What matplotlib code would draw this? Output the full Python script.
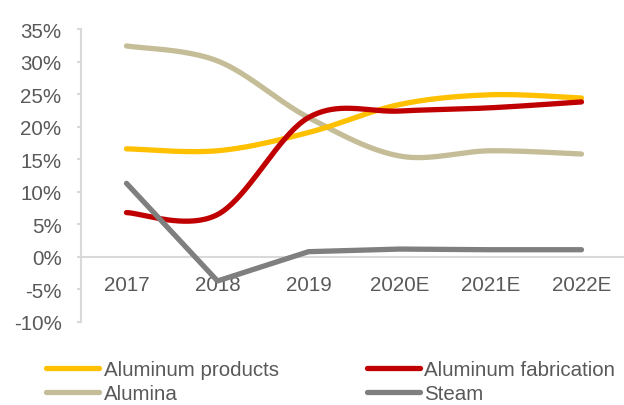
import numpy as np
import matplotlib
matplotlib.use("Agg")
import matplotlib.pyplot as plt
from matplotlib.lines import Line2D

# Segment margins by year (%)
years = ["2017", "2018", "2019", "2020E", "2021E", "2022E"]
aluminum_products = [16.6, 16.3, 19.1, 23.4, 24.9, 24.4]
aluminum_fabrication = [6.8, 6.5, 21.4, 22.4, 22.9, 23.8]
alumina = [32.4, 30.1, 21.4, 15.5, 16.3, 15.8]
steam = [11.3, -3.7, 0.8, 1.2, 1.1, 1.1]

y_ticks = [-10, -5, 0, 5, 10, 15, 20, 25, 30, 35]

C_PRODUCTS = "#FFC000"
C_FABRICATION = "#C00000"
C_ALUMINA = "#C4BD97"
C_STEAM = "#7F7F7F"
C_TEXT = "#595959"
C_AXIS = "#D9D9D9"

plt.rcParams["font.family"] = ["Liberation Sans", "DejaVu Sans"]
FS = 14.8


def smooth(xs, ys, n=40):
    """Spreadsheet-style smoothed line: cubic Bezier segments with
    Catmull-Rom control points passing through every data point."""
    xs = np.asarray(xs, float)
    ys = np.asarray(ys, float)
    px = np.concatenate([[xs[0]], xs, [xs[-1]]])
    py = np.concatenate([[ys[0]], ys, [ys[-1]]])
    t = np.linspace(0, 1, n)
    out_x, out_y = [], []
    for i in range(1, len(xs)):
        p0x, p0y = px[i], py[i]
        p1x, p1y = px[i + 1], py[i + 1]
        c1x = p0x + (px[i + 1] - px[i - 1]) / 6
        c1y = p0y + (py[i + 1] - py[i - 1]) / 6
        c2x = p1x - (px[i + 2] - px[i]) / 6
        c2y = p1y - (py[i + 2] - py[i]) / 6
        b0 = (1 - t) ** 3
        b1 = 3 * (1 - t) ** 2 * t
        b2 = 3 * (1 - t) * t ** 2
        b3 = t ** 3
        out_x.append(b0 * p0x + b1 * c1x + b2 * c2x + b3 * p1x)
        out_y.append(b0 * p0y + b1 * c1y + b2 * c2y + b3 * p1y)
    return np.concatenate(out_x), np.concatenate(out_y)


fig = plt.figure(figsize=(6.24, 4.06), dpi=100)
ax = fig.add_axes([81 / 624, 1 - 323 / 406, 543 / 624, 293 / 406])

x = np.arange(len(years))
lw = 3.8
kw = dict(lw=lw, solid_capstyle="round", solid_joinstyle="round")

sx, sy = smooth(x, alumina)
ax.plot(sx, sy, color=C_ALUMINA, **kw)
sx, sy = smooth(x, aluminum_products)
ax.plot(sx, sy, color=C_PRODUCTS, **kw)
sx, sy = smooth(x, aluminum_fabrication)
ax.plot(sx, sy, color=C_FABRICATION, **kw)
ax.plot(x, steam, color=C_STEAM, **kw)

ax.set_xlim(-0.5, 5.467)
ax.set_ylim(-10, 35)
ax.set_yticks(y_ticks)
ax.set_yticklabels([f"{v}%" for v in y_ticks])
ax.set_xticks(x)
ax.set_xticklabels(years)

for s in ["top", "right"]:
    ax.spines[s].set_visible(False)
ax.spines["left"].set_color(C_AXIS)
ax.spines["left"].set_linewidth(1.5)
ax.spines["bottom"].set_position(("data", 0))
ax.spines["bottom"].set_color(C_AXIS)
ax.spines["bottom"].set_linewidth(1.5)
ax.spines["bottom"].set_zorder(0)

ax.tick_params(axis="y", colors=C_AXIS, labelcolor=C_TEXT, labelsize=FS,
               length=3, width=1.5, pad=11)
ax.tick_params(axis="x", labelcolor=C_TEXT, labelsize=FS, length=0, pad=13)

handles = [
    Line2D([], [], color=C_PRODUCTS, lw=lw, solid_capstyle="round"),
    Line2D([], [], color=C_ALUMINA, lw=lw, solid_capstyle="round"),
    Line2D([], [], color=C_FABRICATION, lw=lw, solid_capstyle="round"),
    Line2D([], [], color=C_STEAM, lw=lw, solid_capstyle="round"),
]
labels = ["Aluminum products", "Alumina", "Aluminum fabrication", "Steam"]
leg = fig.legend(handles, labels, ncol=2, loc="lower left",
                 bbox_to_anchor=(46 / 624, 1.5 / 406), frameon=False,
                 fontsize=FS, handlelength=2.6, handletextpad=0.2,
                 columnspacing=4.3, labelspacing=0.28, borderpad=0,
                 borderaxespad=0)
for t in leg.get_texts():
    t.set_color(C_TEXT)

fig.savefig("out.png", dpi=100)
